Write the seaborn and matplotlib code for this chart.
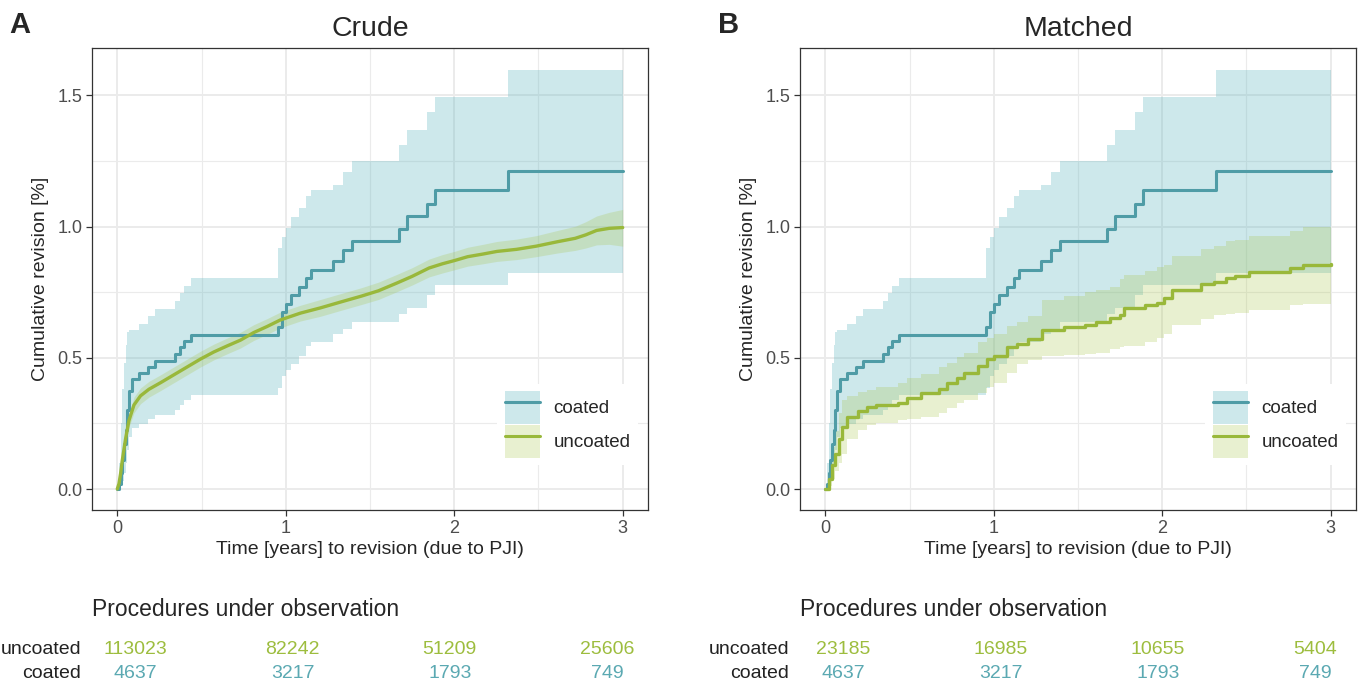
import numpy as np
import pandas as pd
import matplotlib
matplotlib.use("Agg")
import matplotlib.pyplot as plt
import seaborn as sns
from matplotlib.patches import Patch
from matplotlib.lines import Line2D
from matplotlib.ticker import MultipleLocator, FormatStrFormatter

# ─── Data ──────────────────────────────────────────────────────
coated_t = [0, 0.01, 0.02, 0.03, 0.04, 0.049, 0.059, 0.069, 0.089, 0.131, 0.18, 0.222,
            0.343, 0.37, 0.396, 0.435, 0.956, 0.977, 1.001, 1.030, 1.079, 1.121, 1.149,
            1.280, 1.337, 1.392, 1.671, 1.720, 1.836, 1.883, 2.321, 3.0]
coated_est = [0, 0.02, 0.06, 0.11, 0.17, 0.225, 0.30, 0.374, 0.419, 0.441, 0.463, 0.488,
              0.514, 0.54, 0.562, 0.585, 0.617, 0.675, 0.704, 0.739, 0.771, 0.803, 0.835,
              0.870, 0.909, 0.945, 0.990, 1.039, 1.086, 1.138, 1.211, 1.211]
coated_lo = [0, 0.0, 0.01, 0.03, 0.06, 0.10, 0.15, 0.20, 0.231, 0.248, 0.266, 0.283,
             0.302, 0.321, 0.338, 0.357, 0.383, 0.431, 0.454, 0.476, 0.508, 0.546, 0.56,
             0.59, 0.61, 0.636, 0.668, 0.69, 0.739, 0.778, 0.822, 0.822]
coated_hi = [0, 0.1, 0.25, 0.38, 0.48, 0.55, 0.60, 0.604, 0.604, 0.63, 0.658, 0.685,
             0.716, 0.746, 0.774, 0.803, 0.92, 0.96, 0.996, 1.035, 1.07, 1.116, 1.14,
             1.159, 1.206, 1.251, 1.311, 1.369, 1.436, 1.494, 1.596, 1.596]

# crude uncoated: very many tiny steps, drawn as a smooth curve
crude_t = [0, 0.01, 0.02, 0.03, 0.049, 0.069, 0.099, 0.138, 0.188, 0.257, 0.336, 0.415,
           0.494, 0.573, 0.652, 0.731, 0.81, 0.889, 0.968, 1.087, 1.206, 1.324, 1.45,
           1.55, 1.661, 1.75, 1.851, 1.93, 2.0, 2.08, 2.17, 2.253, 2.37, 2.486, 2.613,
           2.718, 2.78, 2.845, 2.92, 3.0]
crude_est = [0, 0.02, 0.06, 0.11, 0.19, 0.26, 0.32, 0.355, 0.38, 0.405, 0.435, 0.465,
             0.495, 0.522, 0.545, 0.567, 0.596, 0.619, 0.644, 0.67, 0.69, 0.712, 0.735,
             0.755, 0.785, 0.81, 0.842, 0.858, 0.87, 0.885, 0.895, 0.905, 0.913, 0.925,
             0.942, 0.955, 0.968, 0.985, 0.993, 0.996]
crude_lo = [0, 0.01, 0.045, 0.09, 0.165, 0.235, 0.29, 0.325, 0.35, 0.375, 0.405, 0.435,
            0.465, 0.492, 0.515, 0.537, 0.566, 0.589, 0.614, 0.64, 0.658, 0.68, 0.703,
            0.722, 0.752, 0.777, 0.808, 0.823, 0.835, 0.849, 0.858, 0.867, 0.874, 0.885,
            0.899, 0.909, 0.918, 0.93, 0.932, 0.925]
crude_hi = [0, 0.03, 0.075, 0.13, 0.215, 0.285, 0.35, 0.385, 0.41, 0.435, 0.465, 0.495,
            0.525, 0.552, 0.575, 0.597, 0.626, 0.649, 0.674, 0.70, 0.722, 0.744, 0.767,
            0.788, 0.818, 0.843, 0.876, 0.893, 0.905, 0.921, 0.932, 0.943, 0.952, 0.965,
            0.985, 1.001, 1.018, 1.04, 1.054, 1.065]

matched_t = [0, 0.02, 0.04, 0.06, 0.08, 0.1, 0.13, 0.197, 0.25, 0.3, 0.43, 0.483, 0.568,
             0.674, 0.72, 0.78, 0.822, 0.907, 0.96, 1.0, 1.076, 1.14, 1.203, 1.288, 1.415,
             1.542, 1.606, 1.69, 1.75, 1.773, 1.9, 1.966, 2.008, 2.06, 2.23, 2.305, 2.38,
             2.43, 2.517, 2.76, 2.835, 3.0]
matched_est = [0, 0.04, 0.09, 0.135, 0.19, 0.238, 0.276, 0.296, 0.311, 0.321, 0.328, 0.347,
               0.366, 0.382, 0.405, 0.424, 0.443, 0.469, 0.495, 0.508, 0.540, 0.553, 0.572,
               0.604, 0.617, 0.623, 0.636, 0.653, 0.662, 0.688, 0.700, 0.707, 0.726, 0.758,
               0.781, 0.790, 0.803, 0.813, 0.826, 0.842, 0.855, 0.857]
matched_lo = [0, 0.01, 0.04, 0.07, 0.1, 0.135, 0.19, 0.225, 0.244, 0.25, 0.262, 0.266,
              0.275, 0.289, 0.31, 0.328, 0.34, 0.366, 0.39, 0.405, 0.443, 0.476, 0.49,
              0.508, 0.51, 0.514, 0.52, 0.533, 0.54, 0.545, 0.559, 0.575, 0.591, 0.623,
              0.649, 0.662, 0.665, 0.67, 0.681, 0.70, 0.705, 0.711]
matched_hi = [0, 0.08, 0.16, 0.22, 0.29, 0.34, 0.353, 0.37, 0.379, 0.39, 0.405, 0.424,
              0.44, 0.463, 0.48, 0.501, 0.52, 0.559, 0.575, 0.591, 0.62, 0.636, 0.66,
              0.72, 0.735, 0.752, 0.76, 0.771, 0.8, 0.816, 0.83, 0.845, 0.855, 0.887,
              0.913, 0.925, 0.945, 0.95, 0.964, 0.984, 1.0, 1.0]

risk_times = [0, 1, 2, 3]
crude_uncoated_n = [113023, 82242, 51209, 25606]
matched_uncoated_n = [23185, 16985, 10655, 5404]
coated_n = [4637, 3217, 1793, 749]

# ─── Style ─────────────────────────────────────────────────────
sns.set_style("white")
plt.rcParams['font.family'] = ['Liberation Sans', 'DejaVu Sans']

TEAL = "#4F9CA6"
TEAL_FILL = "#5AB4BD"
GREEN = "#99B83A"
GREEN_FILL = "#A6C444"
TEAL_TXT = "#5BA9B2"
GREEN_TXT = "#9DBD3E"
GRID = "#EBEBEB"

fig = plt.figure(figsize=(13.61, 6.80), dpi=100)
W, H = 1361, 680


def px_axes(l, t, r, b):
    return fig.add_axes([l / W, 1 - b / H, (r - l) / W, (b - t) / H])


def km_panel(ax, unc_t, unc_est, unc_lo, unc_hi, title, letter, smooth):
    step = None if smooth else 'post'
    style = 'default' if smooth else 'steps-post'
    ax.fill_between(coated_t, coated_lo, coated_hi, step='post', color=TEAL_FILL,
                    alpha=0.30, lw=0, zorder=2)
    ax.fill_between(unc_t, unc_lo, unc_hi, step=step, color=GREEN_FILL,
                    alpha=0.25, lw=0, zorder=2)
    sns.lineplot(x=coated_t, y=coated_est, ax=ax, color=TEAL, lw=2.2,
                 drawstyle='steps-post', estimator=None, zorder=3)
    sns.lineplot(x=unc_t, y=unc_est, ax=ax, color=GREEN, lw=2.4,
                 drawstyle=style, estimator=None, zorder=4)

    ax.set_xlim(-0.15, 3.15)
    ax.set_ylim(-0.08, 1.68)
    ax.xaxis.set_major_locator(MultipleLocator(1))
    ax.xaxis.set_minor_locator(MultipleLocator(0.5))
    ax.yaxis.set_major_locator(MultipleLocator(0.5))
    ax.yaxis.set_minor_locator(MultipleLocator(0.25))
    ax.yaxis.set_major_formatter(FormatStrFormatter('%.1f'))
    ax.grid(which='major', color=GRID, lw=1.4, zorder=0)
    ax.grid(which='minor', color=GRID, lw=0.8, zorder=0)
    ax.set_axisbelow(True)
    ax.tick_params(which='major', direction='out', length=4, width=0.9,
                   color='#333333', labelsize=13, labelcolor='#4D4D4D', pad=3,
                   bottom=True, left=True)
    ax.tick_params(which='minor', length=0)
    for s in ax.spines.values():
        s.set_color('#333333')
        s.set_linewidth(0.9)
    ax.set_xlabel('Time [years] to revision (due to PJI)', fontsize=14, labelpad=3)
    ax.set_ylabel('Cumulative revision [%]', fontsize=14, labelpad=6)
    ax.set_title(title, fontsize=20.5, pad=9)
    ax.text(-0.148, 1.05, letter, transform=ax.transAxes, fontsize=21,
            fontweight='bold', va='center', ha='left')

    handles = [(Patch(facecolor=TEAL_FILL, alpha=0.30, lw=0), Line2D([], [], color=TEAL, lw=2.2)),
               (Patch(facecolor=GREEN_FILL, alpha=0.25, lw=0), Line2D([], [], color=GREEN, lw=2.2))]
    leg = ax.legend(handles, ['coated', 'uncoated'], loc='center',
                    bbox_to_anchor=(0.855, 0.185), frameon=True, fontsize=13.5,
                    handlelength=1.9, handleheight=2.3, labelspacing=0.08,
                    handletextpad=0.7, borderpad=0.4)
    leg.get_frame().set_edgecolor('none')
    leg.get_frame().set_facecolor('white')
    leg.get_frame().set_alpha(1)


def risk_table(l, r, uncoated_n):
    tab = px_axes(l, 626, r, 680)
    tab.set_xlim(-0.275, 3.26)
    tab.set_ylim(0, 1)
    tab.axis('off')
    for t, n in zip(risk_times, uncoated_n):
        tab.text(t, 0.56, str(n), color=GREEN_TXT, fontsize=14, ha='center', va='center')
    for t, n in zip(risk_times, coated_n):
        tab.text(t, 0.12, str(n), color=TEAL_TXT, fontsize=14, ha='center', va='center')
    tab.text(-0.345, 0.56, 'uncoated', fontsize=14, ha='right', va='center',
             color='#222222', clip_on=False)
    tab.text(-0.345, 0.12, 'coated', fontsize=14, ha='right', va='center',
             color='#222222', clip_on=False)
    fig.text(l / W, 1 - 609 / H, 'Procedures under observation', fontsize=16.5,
             ha='left', va='center')


ax_a = px_axes(92, 48, 648, 510)
km_panel(ax_a, crude_t, crude_est, crude_lo, crude_hi, 'Crude', 'A', smooth=True)
ax_b = px_axes(800, 48, 1356, 510)
km_panel(ax_b, matched_t, matched_est, matched_lo, matched_hi, 'Matched', 'B', smooth=False)

risk_table(92, 648, crude_uncoated_n)
risk_table(800, 1356, matched_uncoated_n)

fig.savefig('out.png', dpi=100)
